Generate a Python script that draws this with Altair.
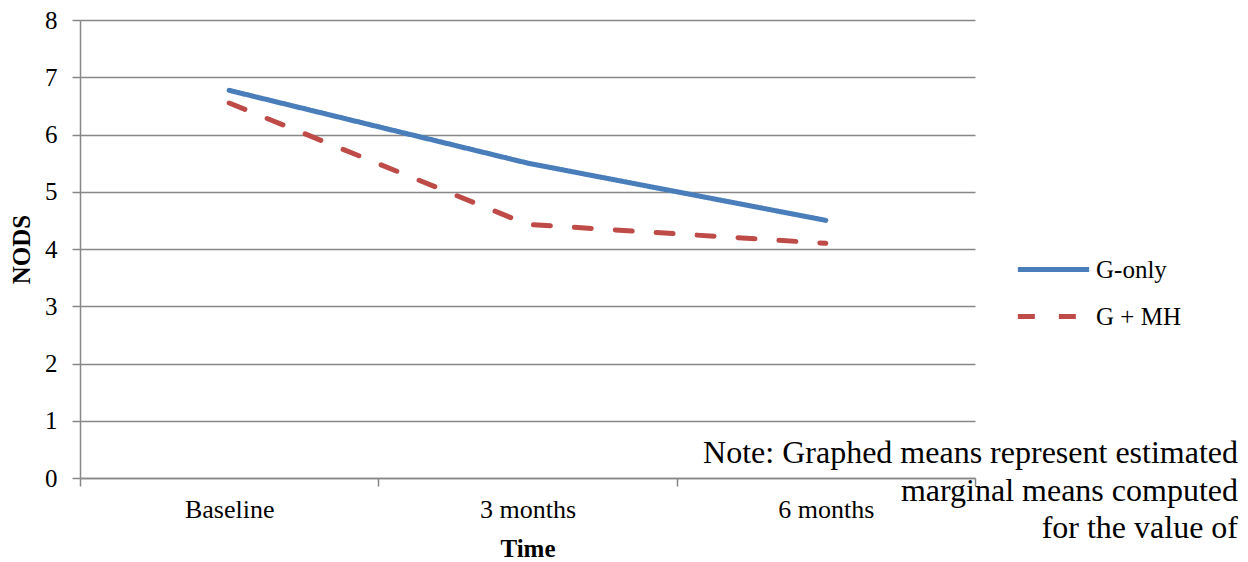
import altair as alt
import pandas as pd

time_points = ["Baseline", "3 months", "6 months"]
g_only = [6.77, 5.50, 4.50]
g_mh = [6.55, 4.43, 4.10]
groups = ["G-only", "G + MH"]
colors = ["#4A7EBB", "#BE4B48"]
dashes = [[1, 0], [17, 24]]
y_ticks = [0, 1, 2, 3, 4, 5, 6, 7, 8]
note_lines = ["Note: Graphed means represent estimated",
              "marginal means computed",
              "for the value of"]

rows = []
for g, vals in zip(groups, [g_only, g_mh]):
    for t, v in zip(time_points, vals):
        rows.append({"Time": t, "NODS": v, "Group": g})
df = pd.DataFrame(rows)

FONT = "Liberation Serif"
GRID = "#878787"

legend_opts = dict(title=None, orient="none", legendX=940, legendY=216,
                   symbolType="M-1.15,0H1.15", symbolSize=3844, symbolStrokeWidth=5,
                   labelFontSize=25, labelFont=FONT, labelOffset=9, padding=0,
                   rowPadding=0)

lines = alt.Chart(df).mark_line(strokeWidth=5, strokeCap="round", strokeJoin="round").encode(
    x=alt.X("Time:N", sort=time_points,
            scale=alt.Scale(type="band", paddingInner=0, paddingOuter=0),
            axis=alt.Axis(title="Time", labelAngle=0, tickBand="extent", grid=False,
                          labelFontSize=26, titleFontSize=25, labelPadding=10, titlePadding=14,
                          tickSize=8)),
    y=alt.Y("NODS:Q", scale=alt.Scale(domain=[0, 8], nice=False),
            axis=alt.Axis(title="NODS", values=y_ticks, format="d", grid=True,
                          labelFontSize=25, titleFontSize=25, labelPadding=15,
                          titlePadding=10, tickSize=8)),
    color=alt.Color("Group:N", sort=groups,
                    scale=alt.Scale(domain=groups, range=colors),
                    legend=alt.Legend(**legend_opts)),
    strokeDash=alt.StrokeDash("Group:N", sort=groups,
                              scale=alt.Scale(domain=groups, range=dashes),
                              legend=alt.Legend(**legend_opts)),
)

note = alt.Chart(pd.DataFrame({"a": [0]})).mark_text(
    text=note_lines, align="right", baseline="alphabetic", fontSize=32,
    font=FONT, lineHeight=37.5, color="black"
).encode(x=alt.value(1158), y=alt.value(443))

chart = alt.layer(lines, note).properties(
    width=895, height=458, autosize="none",
    padding={"left": 80, "top": 20, "right": 273, "bottom": 84},
).configure_view(stroke=None).configure_axis(
    labelFont=FONT, titleFont=FONT, labelColor="black", titleColor="black",
    domainColor=GRID, tickColor=GRID, gridColor=GRID, domainWidth=1.5,
    tickWidth=1.5, gridWidth=1.5, titleFontWeight="bold",
)

chart.save("out.html", embed_options={"renderer": "svg", "actions": False})
